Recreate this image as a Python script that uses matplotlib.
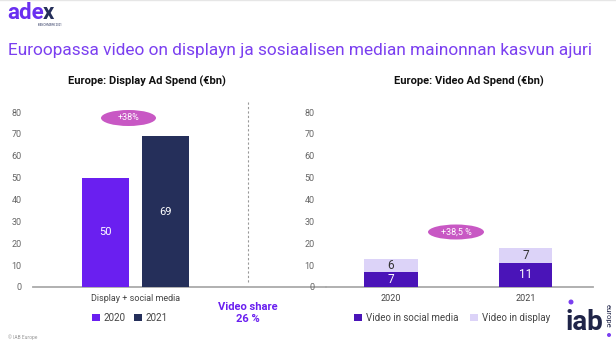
import matplotlib
matplotlib.use("Agg")
import matplotlib.pyplot as plt
from matplotlib.patches import Ellipse, Patch
import numpy as np

# ---- data ----
left_category = ["Display + social media"]
left_years = ["2020", "2021"]
left_values = [50, 69]
left_growth = "+38%"

right_years = ["2020", "2021"]
video_social = [7, 11]
video_display = [6, 7]
right_growth = "+38,5 %"
video_share_text = "Video share\n26 %"

yticks = [0, 10, 20, 30, 40, 50, 60, 70, 80]

title = "Euroopassa video on displayn ja sosiaalisen median mainonnan kasvun ajuri"
left_title = "Europe: Display Ad Spend (€bn)"
right_title = "Europe: Video Ad Spend (€bn)"

# ---- style ----
plt.rcParams['font.family'] = ['Roboto', 'DejaVu Sans']
C2020 = "#6a1ff0"
C2021 = "#252f5a"
CSOC = "#4a14b8"
CDISP = "#dcd3f8"
CPINK = "#c858c4"
CTITLE = "#7b3ff0"
CTICK = "#666666"
CBASE = "#aaaaaa"

W, H = 616, 344
fig = plt.figure(figsize=(W / 100, H / 100), dpi=100)
fig.patch.set_facecolor("white")

def px(x, y):
    return x / W, 1 - y / H

def add_ax(x0, x1, ytop, ybot):
    return fig.add_axes([x0 / W, 1 - ybot / H, (x1 - x0) / W, (ybot - ytop) / H])

ax1 = add_ax(33, 326, 112, 287)
ax2 = add_ax(326, 593, 112, 287)

for ax in (ax1, ax2):
    ax.set_ylim(0, 80)
    ax.set_yticks(yticks)
    ax.tick_params(axis='y', length=0, pad=8, labelsize=6.5, labelcolor=CTICK)
    ax.tick_params(axis='x', length=0, pad=5, labelsize=6.5, labelcolor="#444444")
    for s in ("top", "right", "left"):
        ax.spines[s].set_visible(False)
    ax.spines["bottom"].set_color(CBASE)
    ax.spines["bottom"].set_linewidth(1.3)
    ax.set_facecolor("none")

# left chart
ax1.set_xlim(-1.025, 1.905)
offsets = [-0.30, 0.30]
colors_l = [C2020, C2021]
for i, (yr, v) in enumerate(zip(left_years, left_values)):
    ax1.bar(0 + offsets[i], v, width=0.47, color=colors_l[i], label=yr, zorder=3)
    ax1.text(0 + offsets[i], v / 2, str(v), ha="center", va="center",
             color="white", fontsize=8)
ax1.set_xticks([0])
ax1.set_xticklabels(left_category)
ax1.axvline(1.125, ymin=0.029, ymax=1.057, color="#999999", lw=0.8,
            ls=(0, (2, 2)), clip_on=False)

# right chart
ax2.set_xlim(-0.483, 1.502)
xr = np.arange(len(right_years))
ax2.bar(xr, video_social, width=0.40, color=CSOC, zorder=3)
ax2.bar(xr, video_display, width=0.40, bottom=video_social, color=CDISP, zorder=3)
for i in range(len(right_years)):
    ax2.text(xr[i], video_social[i] / 2, str(video_social[i]), ha="center",
             va="center", color="white", fontsize=8.5)
    ax2.text(xr[i], video_social[i] + video_display[i] / 2, str(video_display[i]),
             ha="center", va="center", color="#333333", fontsize=8.5)
ax2.set_xticks(xr)
ax2.set_xticklabels(right_years)

# ellipses (growth badges)
def badge(cx, cy, w, h, txt):
    e = Ellipse(px(cx, cy), w / W, h / H, transform=fig.transFigure,
                facecolor=CPINK, edgecolor="none")
    fig.add_artist(e)
    fig.text(*px(cx, cy), txt, ha="center", va="center", color="white", fontsize=6.5)

badge(128.5, 118, 55, 16, left_growth)
badge(456, 232, 56, 15, right_growth)

# titles
fig.text(*px(8, 50), title, ha="left", va="center", color=CTITLE, fontsize=12.4)
fig.text(*px(147, 81), left_title, ha="center", va="center", fontsize=8,
         fontweight="bold", color="#111111")
fig.text(*px(469, 81), right_title, ha="center", va="center", fontsize=8,
         fontweight="bold", color="#111111")

# video share
fig.text(*px(247.5, 313), video_share_text, ha="center", va="center",
         fontsize=8, fontweight="bold", color=C2020, linespacing=1.3)

# legends
h1 = [Patch(facecolor=C2020), Patch(facecolor=C2021)]
fig.legend(h1, left_years, loc="center", bbox_to_anchor=px(130, 318), ncol=2,
           frameon=False, fontsize=7, handlelength=0.8, handleheight=0.8,
           handletextpad=0.4, columnspacing=0.9, labelcolor="#444444")
h2 = [Patch(facecolor=CSOC), Patch(facecolor=CDISP)]
fig.legend(h2, ["Video in social media", "Video in display"], loc="center",
           bbox_to_anchor=px(452, 318), ncol=2, frameon=False, fontsize=7,
           handlelength=0.8, handleheight=0.8, handletextpad=0.4,
           columnspacing=1.2, labelcolor="#444444")

# footer / logos
fig.text(*px(8, 337), "© IAB Europe", ha="left", va="center", fontsize=3.5,
         color="#999999")
t_ade = fig.text(*px(7, 19), "ade", ha="left", va="baseline", fontsize=16,
                 fontweight="bold", color="#6a2ff0")
r = fig.canvas.get_renderer()
bb = t_ade.get_window_extent(renderer=r)
fig.text(bb.x1 / W - 0.5 / W, 1 - 19 / H, "x", ha="left", va="baseline", fontsize=16,
         fontweight="bold", color="#252f5a")
fig.text(*px(50, 25.5), "BENCHMARK 2021", ha="center", va="center", fontsize=2,
         color="#252f5a")
fig.text(*px(584, 322), "iab", ha="center", va="center", fontsize=20,
         fontweight="bold", color="#1f2448")
fig.text(*px(608, 316), "europe", ha="center", va="center", fontsize=5.5,
         rotation=-90, color="#1f2448")
fig.add_artist(Ellipse(px(571, 302), 5 / W, 5 / H, transform=fig.transFigure,
                       facecolor="#7b3ff0", edgecolor="none"))
fig.add_artist(Ellipse(px(609, 335), 4 / W, 4 / H, transform=fig.transFigure,
                       facecolor="#7b3ff0", edgecolor="none"))
fig.add_artist(plt.Line2D([0, 1], [0.999, 0.999], transform=fig.transFigure,
                          color="#e6e6e6", lw=1))

fig.savefig("out.png", dpi=100, facecolor="white")
